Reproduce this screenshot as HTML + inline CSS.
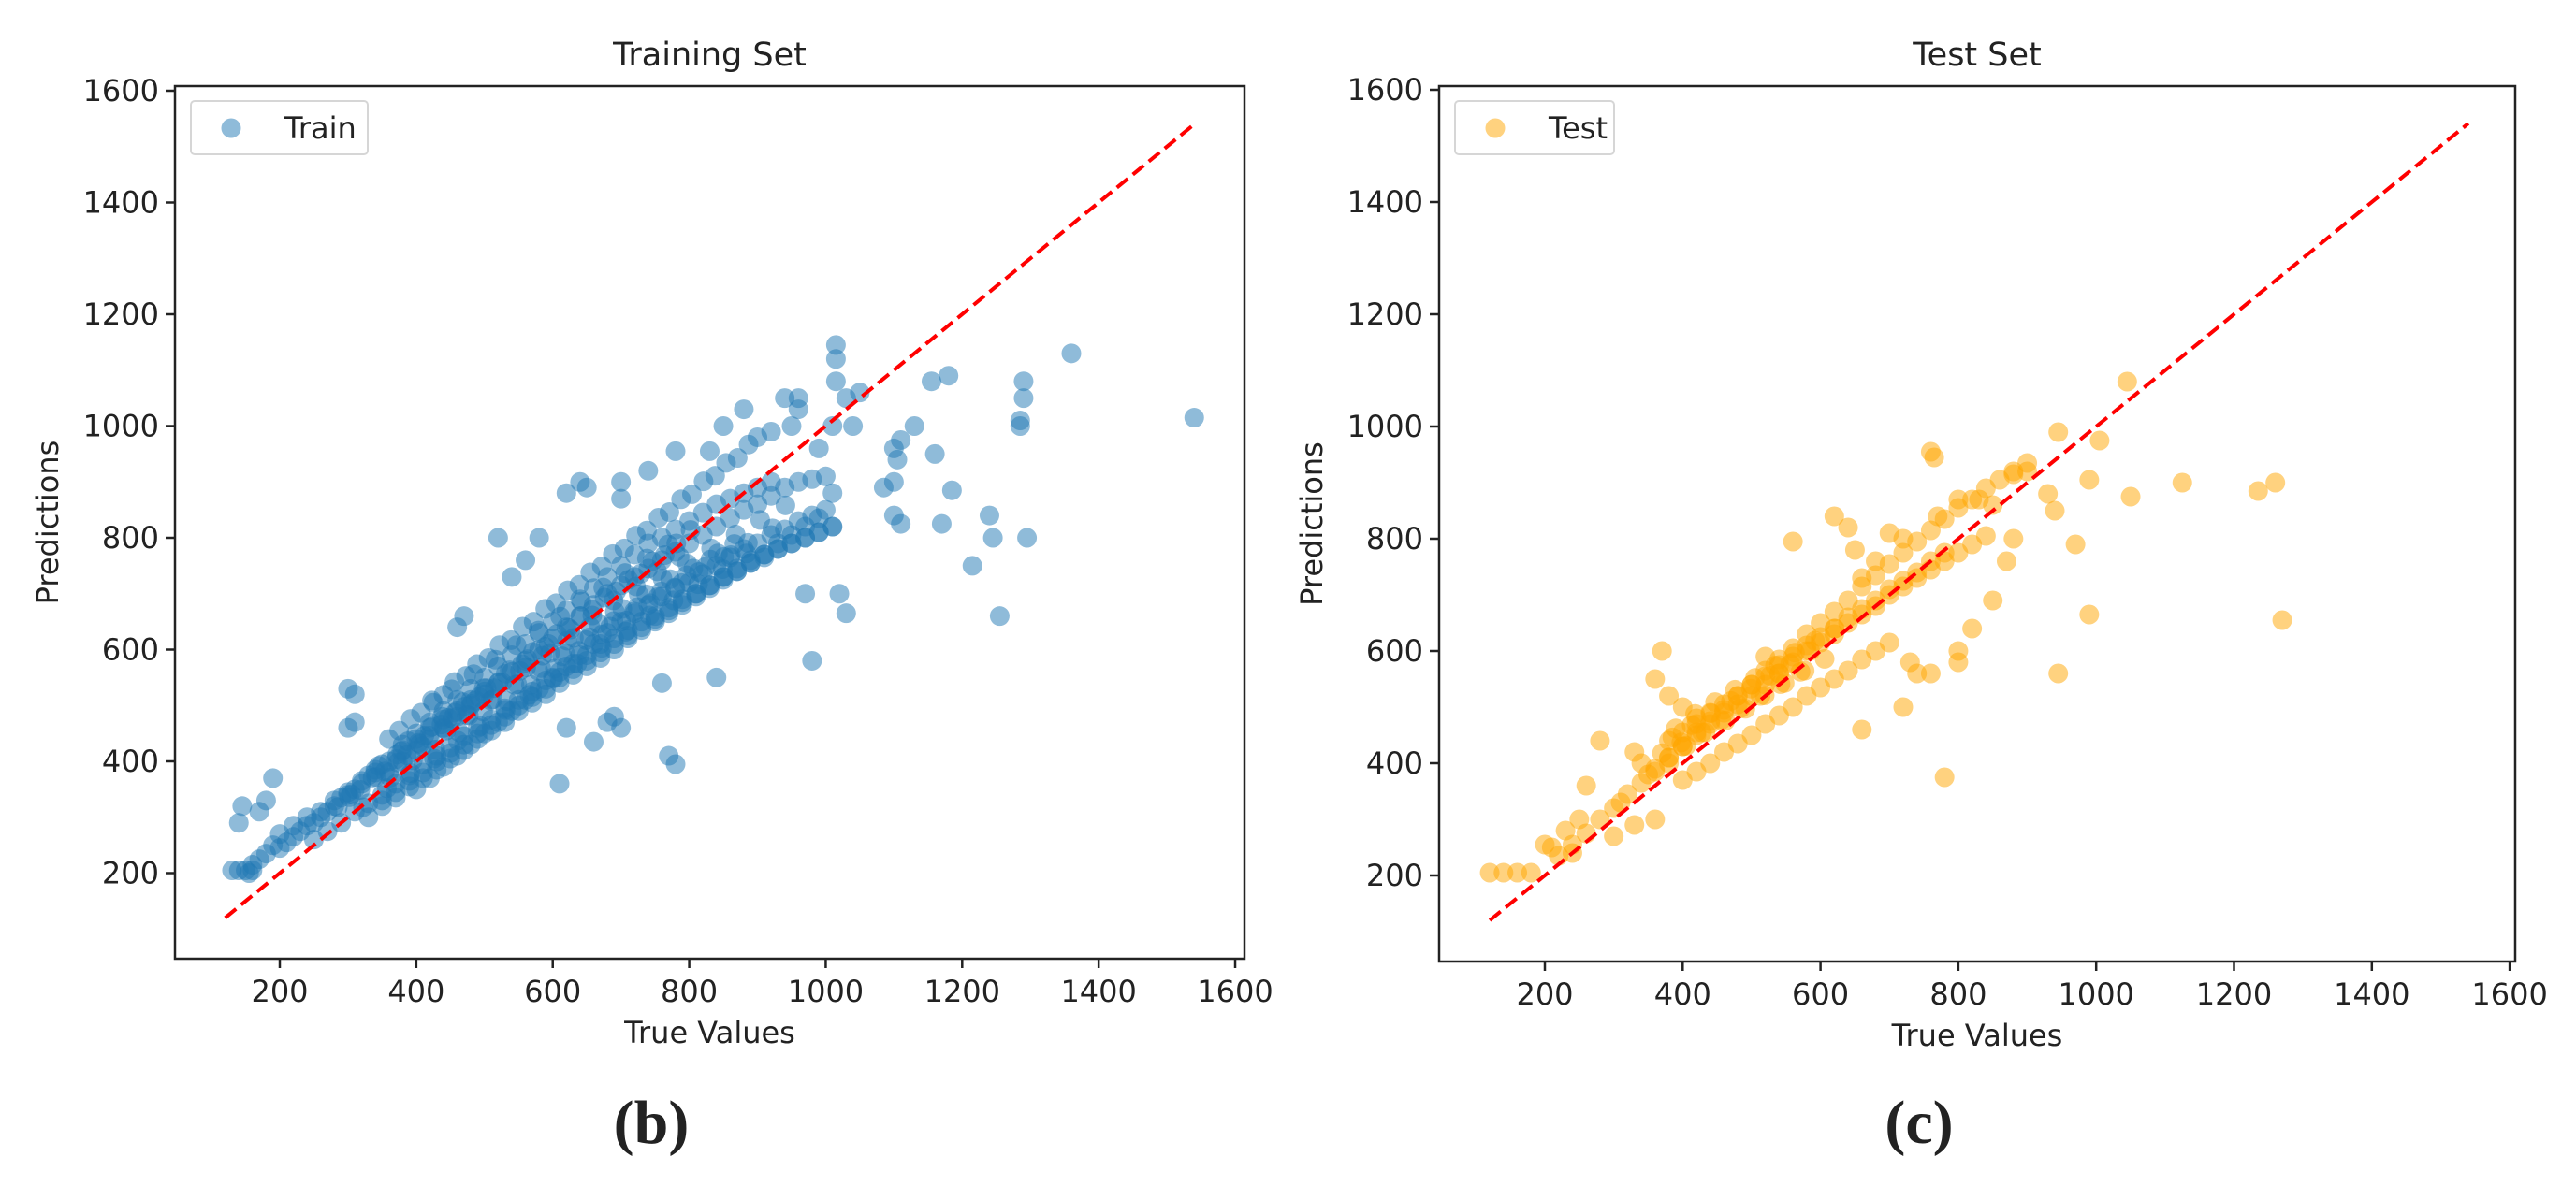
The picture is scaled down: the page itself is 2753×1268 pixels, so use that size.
<!DOCTYPE html>
<html><head><meta charset="utf-8"><style>
html,body{margin:0;padding:0;background:#fff}
svg{display:block}
text{font-family:"DejaVu Sans","Liberation Sans",sans-serif;fill:#222}
</style></head><body>
<svg id="fig" width="2753" height="1268" viewBox="0 0 2753 1268" xmlns="http://www.w3.org/2000/svg"></svg>
<script>
const ticks = [200,400,600,800,1000,1200,1400,1600];
const idealLine = [120,1540];
const trainX = [1540,1360,1290,1290,1285,1285,1295,1255,1240,1245,1215,1180,1155,1160,1170,1185,1130,1110,1100,1105,1085,1100,1100,1110,1050,1040,1015,1015,1015,1030,1010,1020,1030,980,970,990,960,950,960,1010,1000,780,770,610,620,660,680,700,690,840,760,780,740,700,640,620,650,700,830,850,880,900,920,940,560,540,520,580,460,470,300,310,310,300,190,180,170,140,145,140,130,150,160,155,
160,170,180,190,200,210,220,230,240,250,260,270,280,290,300,310,320,330,340,350,
200,220,240,260,280,300,320,340,360,380,400,420,440,460,480,500,
330,350,370,390,410,430,450,470,490,510,530,550,570,590,610,630,650,670,690,710,730,750,770,790,810,830,850,870,890,910,930,950,970,990,
360,380,400,420,440,460,480,500,520,540,560,580,600,620,640,660,680,700,720,740,760,780,800,820,840,860,880,900,920,940,960,980,1000,
400,420,440,460,480,500,520,540,560,580,600,620,640,660,680,700,720,740,760,780,800,820,840,860,880,900,920,940,960,980,
380,400,420,440,460,480,500,520,540,560,580,600,620,640,660,680,700,720,740,760,780,800,820,840,860,880,900,920,
350,370,390,410,430,450,470,490,510,530,550,570,590,610,630,650,670,690,710,730,750,770,790,810,830,850,870,890,910,930,950,970,990,1010,
250,270,290,310,330,350,370,390,410,430,450,470,490,510,530,550,570,590,610,630,650,670,690,710,730,750,770,790,810,830,850,870,890,910,930,950,970,990,1010,
345,362,378,395,412,428,447,463,481,498,515,533,552,568,585,603,621,638,655,672,691,708,726,743,761,779,797,814,832,851,868,886,904,922,941,
305,322,341,357,373,392,409,426,444,461,477,494,512,531,548,566,583,601,618,636,654,672,689,707,724,742,759,777,796,813,831,849,866,884,
372,388,405,423,441,457,474,492,509,526,544,561,579,596,614,631,649,667,684,702,719,737,754,772,789,806,824,842,861,
425,438,452,468,484,499,516,531,547,563,579,594,611,626,642,658,674,689,706,722,738,753,769,786,802,
285,302,318,336,354,371,386,403,419,437,453,471,487,503,521,537,555,571,589,606,623,641,658,676,693,711,729,746,764,781,
360,375,392,407,423,440,456,473,489,506,522,539,556,572,589,605,622,639,655,672,688,705,722,738,755,771,788,804,821,838,854,871,887];
const trainY = [1015,1130,1080,1050,1010,1000,800,660,840,800,750,1090,1080,950,825,885,1000,975,960,940,890,900,840,825,1060,1000,1145,1120,1080,1050,1000,700,665,580,700,960,1050,1000,1030,880,850,395,410,360,460,435,470,460,480,550,540,955,920,900,900,880,890,870,955,1000,1030,980,990,1050,760,730,800,800,640,660,530,520,470,460,370,330,310,290,320,205,205,205,205,200,
215,225,235,250,245,255,265,275,285,290,300,310,320,335,340,350,360,375,385,395,
270,285,300,310,330,345,365,380,400,420,440,460,475,490,510,525,
300,320,335,355,370,385,405,420,440,455,470,490,505,520,540,555,570,585,600,620,635,650,665,680,695,710,725,740,755,770,790,805,820,835,
380,400,420,440,460,480,500,520,540,560,580,600,620,640,660,680,700,715,730,745,760,775,790,805,820,835,850,860,875,890,900,905,910,
350,370,390,410,430,450,470,490,510,530,550,570,590,610,630,650,665,680,695,710,720,735,750,765,780,790,805,815,830,840,
430,450,470,490,510,530,550,570,590,610,630,650,670,690,710,730,750,770,790,800,815,830,845,860,870,880,890,900,
330,345,365,380,400,415,430,450,465,480,500,515,530,550,565,580,595,610,625,640,655,670,685,700,715,730,745,760,770,780,790,800,810,820,
260,275,290,310,325,340,360,375,395,410,425,445,460,475,495,510,525,545,560,575,590,610,620,635,650,660,675,690,700,715,730,740,755,765,780,790,800,810,820,
392,371,418,402,446,421,478,452,503,489,531,508,562,537,589,566,616,598,641,627,668,652,699,683,727,711,754,739,781,766,806,791,832,817,858,
341,318,372,352,398,379,427,405,455,437,482,463,511,492,538,519,567,548,594,575,622,603,651,632,676,661,704,688,733,717,761,744,789,772,
412,436,431,462,458,487,483,515,509,541,537,568,562,594,588,621,617,647,641,673,668,699,694,726,719,745,748,772,769,
505,480,529,506,556,531,582,557,608,583,634,610,659,636,686,661,711,688,737,713,763,740,788,766,814,
318,336,349,371,382,404,411,433,446,466,477,498,509,531,542,563,574,596,605,628,639,660,671,693,704,725,736,758,769,790,
440,455,476,487,509,519,542,553,574,585,608,617,641,650,673,683,706,716,738,749,771,781,804,813,836,846,869,878,901,911,934,943,967];
const testX = [1270,1260,1235,1125,1050,1045,1005,990,990,970,945,945,780,765,760,930,940,900,880,850,830,800,770,720,700,680,660,650,560,620,640,820,850,870,880,660,720,740,760,730,800,800,540,520,280,260,200,120,140,160,180,210,230,250,240,300,310,330,340,360,380,370,400,420,330,360,380,350,
220,240,260,280,300,320,340,360,380,400,420,440,460,480,500,520,540,560,580,600,620,640,660,680,700,720,740,760,780,800,820,840,860,880,900,
360,380,400,420,440,460,480,500,520,540,560,580,600,620,640,660,680,700,720,740,760,780,800,820,840,
380,400,420,440,460,480,500,520,540,560,580,600,620,640,660,680,700,720,740,760,780,
400,420,440,460,480,500,520,540,560,580,600,620,640,660,680,700,
390,405,418,433,447,462,476,491,505,519,534,548,563,577,592,606,621,
370,385,398,413,428,441,456,470,484,499,513,527,542,556,571,585];
const testY = [655,900,885,900,875,1080,975,905,665,790,990,560,375,945,955,880,850,920,915,860,870,870,840,800,810,760,730,780,795,840,820,640,690,760,800,460,500,560,560,580,600,580,560,590,440,360,255,205,205,205,205,250,280,300,240,270,330,420,400,550,520,600,500,480,290,300,400,380,
235,255,275,300,320,345,365,385,410,430,455,475,495,520,540,565,585,605,630,650,670,690,715,735,755,775,795,815,835,855,870,890,905,920,935,
390,410,430,450,470,490,505,520,540,560,580,600,615,630,650,665,680,700,715,730,745,760,775,790,805,
440,455,470,490,505,520,540,555,575,590,610,625,640,660,675,690,710,725,740,760,775,
370,385,400,420,435,450,470,485,500,520,535,550,565,585,600,615,
462,431,488,455,509,476,531,497,552,521,574,543,597,565,618,586,640,
418,446,437,468,455,489,477,511,498,533,520,556,541,577,563,600];

const NS='http://www.w3.org/2000/svg';
const svg=document.getElementById('fig');
function mk(tag,attrs,parent){const e=document.createElementNS(NS,tag);for(const k in attrs)e.setAttribute(k,attrs[k]);(parent||svg).appendChild(e);return e;}

function panel(cfg){
  const g=mk('g',{});
  
  
  const sx=v=>cfg.x0+(v-200)*cfg.kx;
  const sy=v=>cfg.y0-(v-200)*cfg.ky;
  const pg=mk('g',{},g);
  
  
  for(let i=0;i<cfg.xs.length;i++){
    const c=mk('circle',{cx:sx(cfg.xs[i]),cy:sy(cfg.ys[i]),r:10.5,fill:cfg.color,'fill-opacity':cfg.alpha},pg);
    
    
  }
  const ln=mk('line',{x1:sx(idealLine[0]),y1:sy(idealLine[0]),x2:sx(idealLine[1]),y2:sy(idealLine[1]),stroke:'#ff0000','stroke-width':4,'stroke-dasharray':'15 7'},g);
  
  
  const fr=mk('rect',{x:cfg.L,y:cfg.T,width:cfg.R-cfg.L,height:cfg.B-cfg.T,fill:'none',stroke:'#222','stroke-width':2.5},g);
  
  
  for(const t of ticks){
    const x=sx(t);
    mk('line',{x1:x,y1:cfg.B,x2:x,y2:cfg.B+10,stroke:'#222','stroke-width':2.5},g);
    const tx=mk('text',{x:x,y:cfg.B+46,'font-size':32,'text-anchor':'middle'},g);
    tx.textContent=t;
    
    
    const y=sy(t);
    mk('line',{x1:cfg.L-10,y1:y,x2:cfg.L,y2:y,stroke:'#222','stroke-width':2.5},g);
    const ty=mk('text',{x:cfg.L-17,y:y+11,'font-size':32,'text-anchor':'end'},g);
    ty.textContent=t;
    
    
  }
  const title=mk('text',{x:(cfg.L+cfg.R)/2,y:cfg.T-22,'font-size':35,'text-anchor':'middle'},g);
  title.textContent=cfg.title;
  
  
  const xl=mk('text',{x:(cfg.L+cfg.R)/2,y:cfg.B+90,'font-size':32,'text-anchor':'middle'},g);
  xl.textContent='True Values';
  
  
  const yc=(cfg.T+cfg.B)/2;
  const yl=mk('text',{x:cfg.L-125,y:yc,'font-size':32,'text-anchor':'middle',transform:`rotate(-90 ${cfg.L-125} ${yc})`},g);
  yl.textContent='Predictions';
  
  
  const lg=mk('g',{},g);
  
  
  mk('rect',{x:cfg.L+17,y:cfg.T+16,width:cfg.legW,height:57,rx:4,fill:'#fff',stroke:'#d6d6d6','stroke-width':2},lg);
  mk('circle',{cx:cfg.L+60,cy:cfg.T+45,r:10.5,fill:cfg.color,'fill-opacity':cfg.alpha},lg);
  const lt=mk('text',{x:cfg.L+117,y:cfg.T+56,'font-size':32},lg);
  lt.textContent=cfg.label;
  
  
  const cp=mk('text',{x:cfg.capX,y:1222,'font-size':66,'font-weight':'bold','text-anchor':'middle',style:'font-family:"Liberation Serif",serif'},g);
  cp.textContent=cfg.caption;
  
  
}

panel({key:'train',xs:trainX,ys:trainY,color:'#1f77b4',alpha:0.5,L:187,R:1330,T:92,B:1025,x0:299,kx:0.7293,y0:933.5,ky:0.5975,title:'Training Set',label:'Train',legW:189,capX:696,caption:'(b)'});
panel({key:'test',xs:testX,ys:testY,color:'#ffa500',alpha:0.5,L:1538,R:2688,T:92,B:1028,x0:1651,kx:0.7365,y0:936,ky:0.6,title:'Test Set',label:'Test',legW:170,capX:2051,caption:'(c)'});
</script>
</body></html>
